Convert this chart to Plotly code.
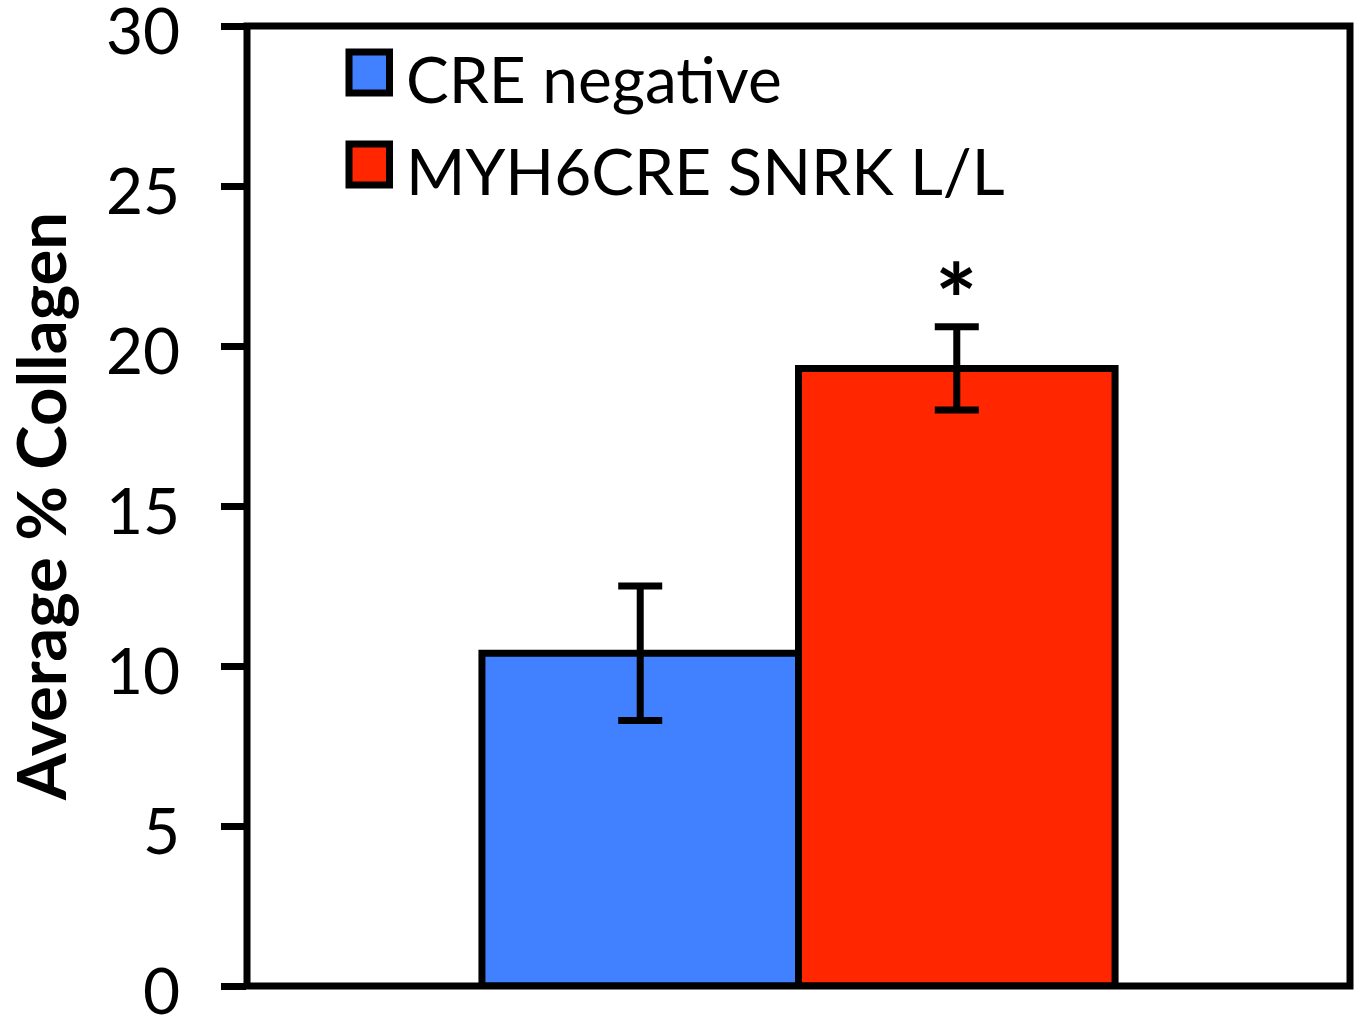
import plotly.graph_objects as go

# Collagen quantification: two genotypes, mean with SEM
groups = ["CRE negative", "MYH6CRE SNRK L/L"]
mean_collagen = [10.4, 19.3]
sem_collagen = [2.1, 1.3]
bar_colors = ["#4180ff", "#ff2600"]
y_ticks = [0, 5, 10, 15, 20, 25, 30]
significance = ["", "*"]

W, H = 1360, 1017
M_L, M_R, M_T, M_B = 247, 10, 26, 31
PW, PH = W - M_L - M_R, H - M_T - M_B
BARGAP = 0.426


def px_x(x):
    return (x - M_L) / PW


def px_y(y):
    return (H - M_B - y) / PH


fig = go.Figure()
for name, m, e, c in zip(groups, mean_collagen, sem_collagen, bar_colors):
    fig.add_trace(go.Bar(
        x=[""], y=[m], name=name,
        marker=dict(color=c, line=dict(color="black", width=7)),
        error_y=dict(type="data", array=[e], visible=True,
                     color="black", thickness=7, width=22),
        showlegend=False,
    ))

# significance marker above the error bar
for i, (m, e, s) in enumerate(zip(mean_collagen, sem_collagen, significance)):
    if s:
        fig.add_annotation(
            x=0.5 * (i - 0.5) * (1 - BARGAP), xref="x",
            y=m + e + 0.9, yref="y",
            text="<b>" + s + "</b>", showarrow=False,
            font=dict(family="Lato", size=100, color="black"),
            yanchor="middle", xanchor="center",
        )

# plot frame
fig.add_shape(type="rect", xref="paper", yref="paper", x0=0, x1=1, y0=0, y1=1,
              line=dict(color="black", width=7), layer="above")

# legend drawn as large swatches with labels
swatch_tops = [52, 144]
for i, (name, c) in enumerate(zip(groups, bar_colors)):
    top = swatch_tops[i]
    fig.add_shape(type="rect", xref="paper", yref="paper",
                  x0=px_x(349), x1=px_x(389.5), y0=px_y(top + 41), y1=px_y(top),
                  fillcolor=c, line=dict(color="black", width=7), layer="above")
    fig.add_annotation(
        x=px_x(404), y=px_y(top + 27), xref="paper", yref="paper",
        text=name, showarrow=False, xanchor="left", yanchor="middle",
        font=dict(family="Lato", size=64, color="black"),
    )

fig.update_layout(
    width=W, height=H,
    margin=dict(l=M_L, r=M_R, t=M_T, b=M_B, pad=0, autoexpand=False),
    paper_bgcolor="white", plot_bgcolor="white",
    barmode="group", bargap=BARGAP, bargroupgap=0,
    font=dict(family="Lato", color="black"),
    xaxis=dict(showticklabels=False, ticks="", showgrid=False, automargin=False,
               zeroline=False, showline=False, range=[-0.5, 0.5]),
    yaxis=dict(
        range=[0, 30], tickvals=y_ticks, ticktext=[str(t) for t in y_ticks],
        ticks="outside", ticklen=25, tickwidth=7, tickcolor="black",
        tickfont=dict(family="Lato", size=64, color="black"),
        ticklabelstandoff=28, ticklabeloverflow="allow", ticklabelshift=6,
        automargin=False,
        showgrid=False, zeroline=False, showline=False,
        title=dict(text="<b>Average % Collagen</b>",
                   font=dict(family="Lato", size=67, color="black"),
                   standoff=20),
    ),
)

fig.write_html("out.html")
